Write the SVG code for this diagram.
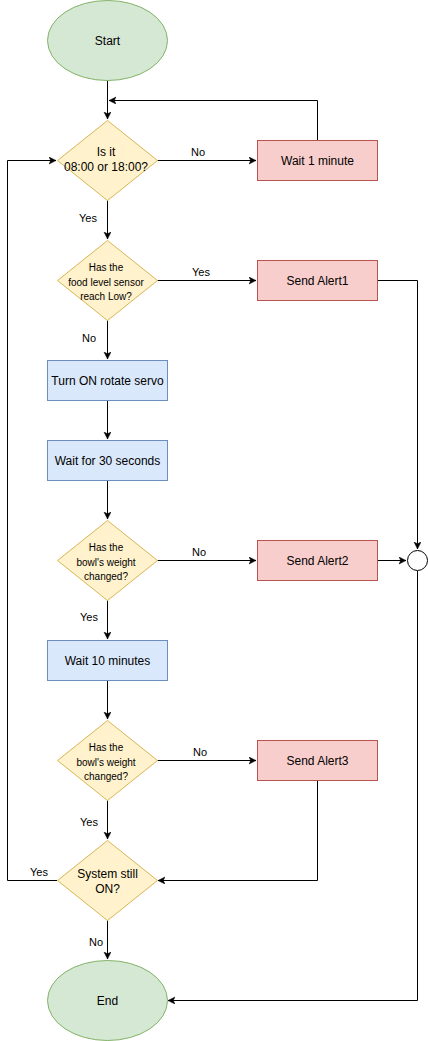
<svg xmlns="http://www.w3.org/2000/svg" width="428" height="1041" viewBox="0 0 428 1041">
  <style>
    text { font-family: "Liberation Sans", Arial, Helvetica, sans-serif; fill: #000; text-anchor: middle; }
    .t12 { font-size: 12px; }
    .t10 { font-size: 10px; }
    .lbl { font-size: 11px; }
    .term { fill: #d5e8d4; stroke: #82b366; stroke-width: 1; }
    .dec { fill: #fff2cc; stroke: #d6b656; stroke-width: 1; }
    .alert { fill: #f8cecc; stroke: #b85450; stroke-width: 1; }
    .proc { fill: #dae8fc; stroke: #6c8ebf; stroke-width: 1; }
    .edge { fill: none; stroke: #000; stroke-width: 1; marker-end: url(#arrow); }
  </style>
  <defs>
    <marker id="arrow" markerUnits="userSpaceOnUse" markerWidth="8" markerHeight="8" refX="7" refY="3.5" orient="auto">
      <path d="M0,0 L7,3.5 L0,7 L1.8,3.5 Z" fill="#000" stroke="#000" stroke-width="0.5"/>
    </marker>
  </defs>
  <rect width="428" height="1041" fill="#fff"/>

  <!-- connectors -->
  <g id="connectors">
    <path class="edge" d="M107.5,80.5 V119"/>
    <path class="edge" d="M317.5,140 V100.5 H109"/>
    <path class="edge" d="M157,160.5 H256"/>
    <path class="edge" d="M107.5,200 V239"/>
    <path class="edge" d="M157,280.5 H256"/>
    <path class="edge" d="M107.5,320 V359"/>
    <path class="edge" d="M107.5,400 V439"/>
    <path class="edge" d="M107.5,480 V519"/>
    <path class="edge" d="M157,560.5 H256"/>
    <path class="edge" d="M107.5,600 V639"/>
    <path class="edge" d="M107.5,680 V719"/>
    <path class="edge" d="M157,760.5 H256"/>
    <path class="edge" d="M107.5,800 V839"/>
    <path class="edge" d="M57,880.5 H7.5 V160.5 H56"/>
    <path class="edge" d="M317.5,780 V880.5 H158"/>
    <path class="edge" d="M107.5,920 V959"/>
    <path class="edge" d="M377,280.5 H417.5 V549"/>
    <path class="edge" d="M377,560.5 H406"/>
    <path class="edge" d="M417.5,571 V1000.5 H168"/>
    <!-- edge labels -->
    <text class="lbl" x="198" y="156">No</text>
    <text class="lbl" x="88" y="222">Yes</text>
    <text class="lbl" x="201" y="276">Yes</text>
    <text class="lbl" x="89" y="342">No</text>
    <text class="lbl" x="199" y="556">No</text>
    <text class="lbl" x="89" y="621">Yes</text>
    <text class="lbl" x="200" y="756">No</text>
    <text class="lbl" x="89" y="826">Yes</text>
    <text class="lbl" x="39" y="876">Yes</text>
    <text class="lbl" x="96" y="946">No</text>
  </g>

  <g id="start">
    <ellipse class="term" cx="107.5" cy="40.5" rx="60" ry="40"/>
    <text class="t12" x="107.5" y="45">Start</text>
  </g>
  <g id="check-time">
    <polygon class="dec" points="107.5,120.5 157.5,160.5 107.5,200.5 57.5,160.5"/>
    <text class="t12" x="106" y="156">Is it</text>
    <text class="t12" x="106" y="171">08:00 or 18:00?</text>
  </g>
  <g id="wait-1-minute">
    <rect class="alert" x="257.5" y="140.5" width="120" height="40"/>
    <text class="t12" x="317.5" y="165">Wait 1 minute</text>
  </g>
  <g id="check-food-level">
    <polygon class="dec" points="107.5,240.5 157.5,280.5 107.5,320.5 57.5,280.5"/>
    <text class="t10" x="106" y="271">Has the</text>
    <text class="t10" x="106" y="285.5">food level sensor</text>
    <text class="t10" x="106" y="300">reach Low?</text>
  </g>
  <g id="send-alert1">
    <rect class="alert" x="257.5" y="260.5" width="120" height="40"/>
    <text class="t12" x="317.5" y="285">Send Alert1</text>
  </g>
  <g id="turn-on-servo">
    <rect class="proc" x="47.5" y="360.5" width="120" height="40"/>
    <text class="t12" x="107.5" y="385">Turn ON rotate servo</text>
  </g>
  <g id="wait-30-seconds">
    <rect class="proc" x="47.5" y="440.5" width="120" height="40"/>
    <text class="t12" x="107.5" y="465">Wait for 30 seconds</text>
  </g>
  <g id="check-weight-1">
    <polygon class="dec" points="107.5,520.5 157.5,560.5 107.5,600.5 57.5,560.5"/>
    <text class="t10" x="106" y="551">Has the</text>
    <text class="t10" x="106" y="565.5">bowl's weight</text>
    <text class="t10" x="106" y="580">changed?</text>
  </g>
  <g id="send-alert2">
    <rect class="alert" x="257.5" y="540.5" width="120" height="40"/>
    <text class="t12" x="317.5" y="565">Send Alert2</text>
  </g>
  <g id="merge">
    <circle cx="417.5" cy="560.5" r="10" fill="#fff" stroke="#000" stroke-width="1"/>
  </g>
  <g id="wait-10-minutes">
    <rect class="proc" x="47.5" y="640.5" width="120" height="40"/>
    <text class="t12" x="107.5" y="665">Wait 10 minutes</text>
  </g>
  <g id="check-weight-2">
    <polygon class="dec" points="107.5,720.5 157.5,760.5 107.5,800.5 57.5,760.5"/>
    <text class="t10" x="106" y="751">Has the</text>
    <text class="t10" x="106" y="765.5">bowl's weight</text>
    <text class="t10" x="106" y="780">changed?</text>
  </g>
  <g id="send-alert3">
    <rect class="alert" x="257.5" y="740.5" width="120" height="40"/>
    <text class="t12" x="317.5" y="765">Send Alert3</text>
  </g>
  <g id="system-on">
    <polygon class="dec" points="107.5,840.5 157.5,880.5 107.5,920.5 57.5,880.5"/>
    <text class="t12" x="107.5" y="878">System still</text>
    <text class="t12" x="107.5" y="893">ON?</text>
  </g>
  <g id="end">
    <ellipse class="term" cx="107.5" cy="1000.5" rx="60" ry="40"/>
    <text class="t12" x="107.5" y="1005">End</text>
  </g>
</svg>
